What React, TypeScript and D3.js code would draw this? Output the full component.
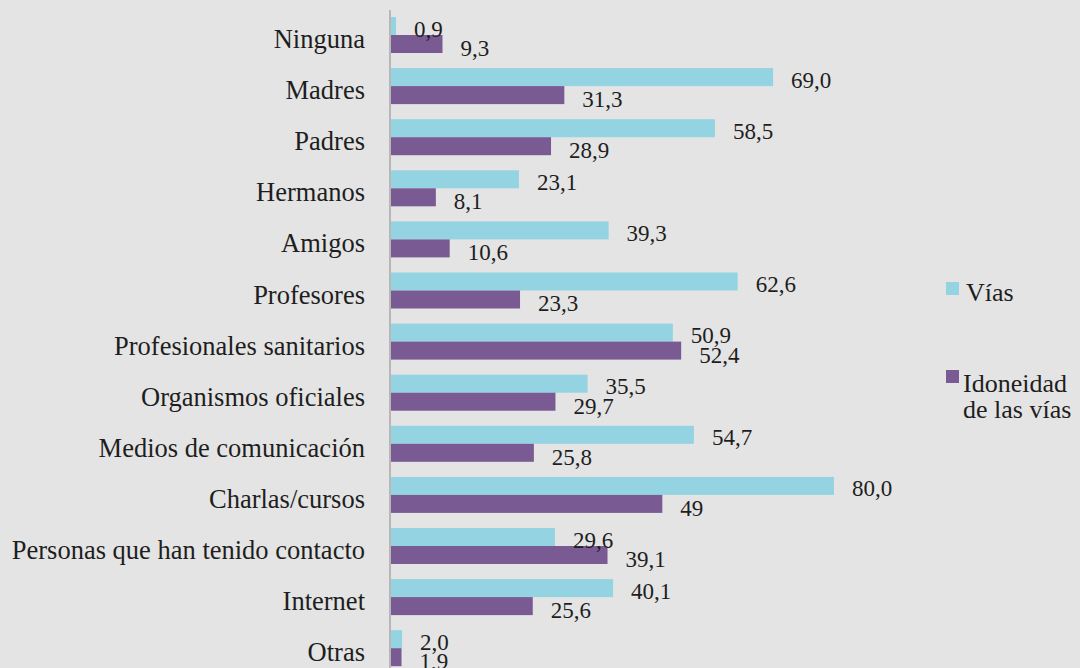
import React from "react";
import * as d3 from "d3";

const categories = [
  "Ninguna",
  "Madres",
  "Padres",
  "Hermanos",
  "Amigos",
  "Profesores",
  "Profesionales sanitarios",
  "Organismos oficiales",
  "Medios de comunicación",
  "Charlas/cursos",
  "Personas que han tenido contacto",
  "Internet",
  "Otras",
];
const viasValues = [0.9, 69.0, 58.5, 23.1, 39.3, 62.6, 50.9, 35.5, 54.7, 80.0, 29.6, 40.1, 2.0];
const idoneidadValues = [9.3, 31.3, 28.9, 8.1, 10.6, 23.3, 52.4, 29.7, 25.8, 49, 39.1, 25.6, 1.9];
const viasLabels = ["0,9", "69,0", "58,5", "23,1", "39,3", "62,6", "50,9", "35,5", "54,7", "80,0", "29,6", "40,1", "2,0"];
const idoneidadLabels = ["9,3", "31,3", "28,9", "8,1", "10,6", "23,3", "52,4", "29,7", "25,8", "49", "39,1", "25,6", "1,9"];
const legendLines = [["Vías"], ["Idoneidad", "de las vías"]];

const W = 1080;
const H = 668;
const BG = "#e4e4e4";
const CYAN = "#93d3e2";
const PURPLE = "#7a5a92";
const FONT = "Liberation Serif";
const TEXT = "#1e1e1e";

export default function App() {
  const step = 51.1;
  const y0 = 35 - step / 2;
  const y = d3
    .scaleBand()
    .domain(categories)
    .range([y0, y0 + step * categories.length])
    .paddingInner(0.2955)
    .paddingOuter(0.2955 / 2);
  const bw = y.bandwidth();
  const x = d3.scaleLinear().domain([0, 80]).range([390, 833]);
  const colors = [CYAN, PURPLE];
  const legendSquareY = [282, 370];
  const legendTextY = [301, 392];
  const legendTextX = [966, 963];

  return (
    <svg
      width={W}
      height={H}
      fontFamily={FONT}
      style={{ position: "absolute", left: 0, top: 0 }}
    >
      <rect x={0} y={0} width={W} height={H} fill={BG} />
      {categories.map((c, i) => {
        const top = y(c) as number;
        const h = bw / 2;
        return (
          <g key={c}>
            <rect x={x(0) + 1} y={top} width={x(viasValues[i]) - x(0)} height={h} fill={CYAN} />
            <rect x={x(0) + 1} y={top + h} width={x(idoneidadValues[i]) - x(0)} height={h} fill={PURPLE} />
            <text x={x(viasValues[i]) + 19} y={top + h + 1.5} fontFamily={FONT} fontSize={23} fill={TEXT}>
              {viasLabels[i]}
            </text>
            <text x={x(idoneidadValues[i]) + 19} y={top + 2 * h + 3} fontFamily={FONT} fontSize={23} fill={TEXT}>
              {idoneidadLabels[i]}
            </text>
            <text x={365} y={top + bw / 2 + 13} fontFamily={FONT} fontSize={26.5} textAnchor="end" fill={TEXT}>
              {c}
            </text>
          </g>
        );
      })}
      <line x1={390} x2={390} y1={10} y2={H} stroke="#a8a8a8" strokeWidth={1.5} />
      {legendLines.map((lines, k) => (
        <g key={k}>
          <rect x={946} y={legendSquareY[k]} width={13} height={13} fill={colors[k]} />
          {lines.map((t, j) => (
            <text
              key={j}
              x={legendTextX[k]}
              y={legendTextY[k] + j * 26}
              fontFamily={FONT}
              fontSize={26}
              fill={TEXT}
            >
              {t}
            </text>
          ))}
        </g>
      ))}
    </svg>
  );
}
